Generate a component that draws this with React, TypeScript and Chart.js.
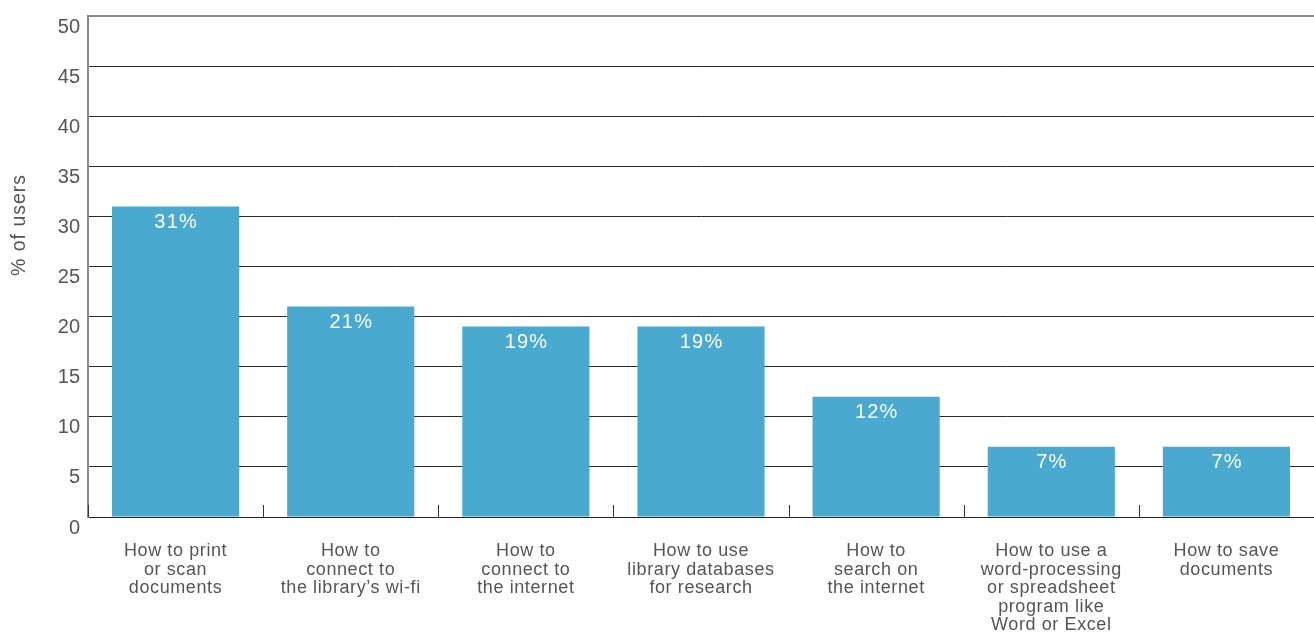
import React, { useEffect, useRef } from "react";
import { Chart, registerables } from "chart.js";

Chart.register(...registerables);

const categories: string[][] = [
  ["How to print", "or scan", "documents"],
  ["How to", "connect to", "the library’s wi-fi"],
  ["How to", "connect to", "the internet"],
  ["How to use", "library databases", "for research"],
  ["How to", "search on", "the internet"],
  ["How to use a", "word-processing", "or spreadsheet", "program like", "Word or Excel"],
  ["How to save", "documents"],
];
const values: number[] = [31, 21, 19, 19, 12, 7, 7];
const yTitle = "% of users";
const yMin = 0;
const yMax = 50;
const yStep = 5;

const FONT = "'Liberation Sans', Arial, Helvetica, sans-serif";
const BAR = "#4aa9ce";
const TEXT = "#555555";

const extras = {
  id: "extras",
  afterDatasetsDraw(chart: any) {
    const ctx = chart.ctx;
    const meta = chart.getDatasetMeta(0);
    ctx.save();
    ctx.fillStyle = "#ffffff";
    ctx.font = `20px ${FONT}`;
    (ctx as any).letterSpacing = "1.2px";
    ctx.textAlign = "center";
    ctx.textBaseline = "middle";
    meta.data.forEach((bar: any, i: number) => {
      ctx.fillText(`${values[i]}%`, bar.x + 0.6, bar.y + 16);
    });
    ctx.restore();
  },
  afterDraw(chart: any) {
    const ctx = chart.ctx;
    const xs = chart.scales.x;
    const area = chart.chartArea;
    const n = categories.length;
    const w = (area.right - area.left) / n;
    ctx.save();
    ctx.strokeStyle = "#333333";
    ctx.lineWidth = 1;
    for (let i = 0; i <= n; i++) {
      const x = i === 0 ? area.left + 0.5 : Math.round(xs.getPixelForValue(i) - w / 2) + 0.5;
      ctx.beginPath();
      ctx.moveTo(x, area.bottom - 12);
      ctx.lineTo(x, area.bottom);
      ctx.stroke();
    }
    // y axis title
    ctx.fillStyle = TEXT;
    ctx.font = `19.5px ${FONT}`;
    (ctx as any).letterSpacing = "1px";
    ctx.textAlign = "center";
    ctx.textBaseline = "middle";
    ctx.translate(20, 225);
    ctx.rotate(-Math.PI / 2);
    ctx.fillText(yTitle, 0, 0);
    ctx.restore();
  },
};

function wrapLabels(scale: any, spacing: string) {
  if (scale._spacingWrapped) return;
  const orig = scale.drawLabels.bind(scale);
  scale.drawLabels = (area: any) => {
    const ctx = scale.ctx;
    const prev = ctx.letterSpacing;
    ctx.letterSpacing = spacing;
    orig(area);
    ctx.letterSpacing = prev || "0px";
  };
  scale._spacingWrapped = true;
}

export default function App() {
  const ref = useRef<HTMLCanvasElement | null>(null);
  useEffect(() => {
    document.body.style.margin = "0";
    const chart = new Chart(ref.current as HTMLCanvasElement, {
      type: "bar",
      data: {
        labels: categories,
        datasets: [
          {
            data: values,
            backgroundColor: BAR,
            borderWidth: 0,
            categoryPercentage: 1,
            barPercentage: 0.726,
          },
        ],
      },
      options: {
        animation: false,
        responsive: false,
        devicePixelRatio: 1,
        layout: { padding: { top: 16, right: 0, left: 0, bottom: 0 } },
        plugins: { legend: { display: false }, tooltip: { enabled: false } },
        scales: {
          x: {
            grid: { display: false },
            border: { display: true, color: "#222222", width: 1 },
            ticks: {
              color: TEXT,
              font: { family: FONT, size: 18, lineHeight: 1.03 },
              padding: 17,
              maxRotation: 0,
              autoSkip: false,
            },
            afterFit(scale: any) {
              scale.height = 116;
              scale.paddingLeft = 0;
              scale.paddingRight = 0;
            },
            afterUpdate(scale: any) {
              wrapLabels(scale, "0.6px");
            },
          },
          y: {
            min: yMin,
            max: yMax,
            grid: {
              color: (c: any) => (c.tick && c.tick.value === yMax ? "#8a8a8a" : "#2a2a2a"),
              lineWidth: (c: any) => (c.tick && c.tick.value === yMax ? 2 : 1),
              drawTicks: false,
            },
            border: { display: true, color: "#8a8a8a", width: 2 },
            ticks: {
              stepSize: yStep,
              color: TEXT,
              font: { family: FONT, size: 20 },
              padding: 8,
              labelOffset: 11,
            },
            afterFit(scale: any) {
              scale.width = 88;
              scale.paddingTop = 0;
              scale.paddingBottom = 0;
            },
          },
        },
      },
      plugins: [extras],
    });
    return () => chart.destroy();
  }, []);
  return <canvas ref={ref} width={1314} height={633} style={{ display: "block" }} />;
}
